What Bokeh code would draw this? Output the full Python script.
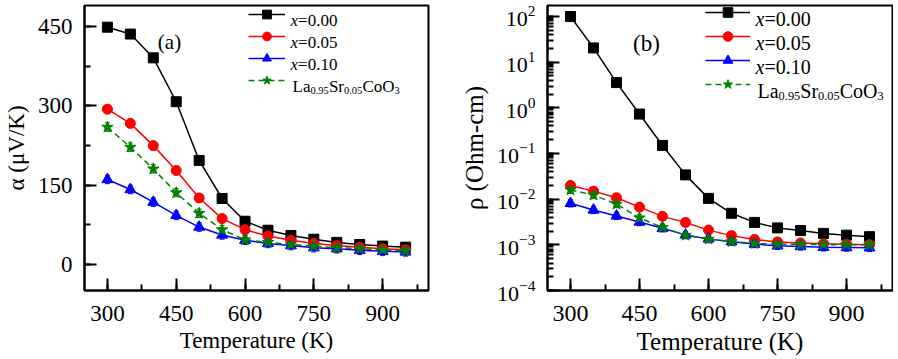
from bokeh.plotting import figure
from bokeh.layouts import row
from bokeh.models import (Range1d, Legend, LegendItem, Label, SingleIntervalTicker, LogTicker,
                          Whisker, TeeHead, ColumnDataSource)
from bokeh.embed import file_html
from bokeh.resources import INLINE

# ---------------- data ----------------
temperature = [300, 350, 400, 450, 500, 550, 600, 650, 700, 750, 800, 850, 900, 950]

alpha_x000 = [449, 436, 391, 308, 197, 125, 82, 65, 55, 48, 42, 38, 35, 33]
alpha_x005 = [294, 267, 225, 178, 126, 87, 66, 54, 46, 40, 36, 33, 30, 28]
alpha_x010 = [161, 142, 118, 93, 71, 56, 46, 40, 36, 32, 30, 27, 25, 24]
alpha_lsco = [260, 222, 181, 136, 97, 66, 47, 42, 38, 35, 32, 30, 28, 26]

rho_x000 = [100, 20.5, 3.57, 0.73, 0.15, 0.034, 0.0104, 0.0049, 0.0031, 0.00235,
            0.00206, 0.00178, 0.00163, 0.00151]
rho_x005 = [0.020, 0.0150, 0.0107, 0.0067, 0.0042, 0.0031, 0.0021, 0.00159, 0.00131,
            0.00116, 0.0011, 0.00105, 0.00103, 0.00100]
rho_x010 = [0.0081, 0.0058, 0.0043, 0.00316, 0.0023, 0.00165, 0.00135, 0.00117, 0.00104,
            0.00095, 0.00092, 0.00088, 0.00087, 0.00086]
rho_lsco = [0.0160, 0.0123, 0.0078, 0.0039, 0.0024, 0.00162, 0.00133, 0.00118, 0.00107,
            0.00104, 0.00102, 0.00101, 0.00100, 0.00100]

# error bar sizes (small)
alpha_err = 8          # µV/K
rho_err_factor = 1.2   # multiplicative

series_labels = ["0.00", "0.05", "0.10"]
lsco_label = [("La", "n"), ("0.95", "sub"), ("Sr", "n"), ("0.05", "sub"), ("CoO", "n"), ("3", "sub")]

colors = ["#000000", "#ff0000", "#0000ff", "#008000"]
markers = ["square", "circle", "triangle", "star"]
marker_sizes = [10, 10, 11, 12]

FONT = "'Liberation Serif', serif"

W = {'x': 0.444, '=': 0.564, '0': 0.5, '1': 0.5, '5': 0.5, '9': 0.5, '3': 0.5, '.': 0.25,
     'L': 0.611, 'a': 0.444, 'S': 0.556, 'r': 0.333, 'C': 0.667, 'o': 0.5, 'O': 0.722}

FH = 285  # frame height


def add_rich(p, x, y, parts, size):
    cx = x
    for text, kind in parts:
        fs = size * 0.62 if kind == "sub" else size
        yy = y - size * 0.25 if kind == "sub" else y
        p.add_layout(Label(x=cx, y=yy, x_units="screen", y_units="screen", text=text,
                           text_font=FONT, text_font_size=f"{fs:.1f}px",
                           text_font_style="italic" if kind == "i" else "normal",
                           text_baseline="alphabetic", text_align="left",
                           text_color="#000000"))
        cx += sum(W.get(c, 0.5) for c in text) * fs


def style(p, tick_font, label_font):
    p.outline_line_color = "black"
    p.outline_line_width = 2
    p.grid.visible = False
    p.background_fill_color = "white"
    p.border_fill_color = "white"
    for ax in (p.xaxis[0], p.yaxis[0]):
        ax.axis_line_width = 2
        ax.axis_line_color = "black"
        ax.major_tick_in = 12
        ax.major_tick_out = 0
        ax.minor_tick_in = 6
        ax.minor_tick_out = 0
        ax.major_tick_line_width = 2
        ax.minor_tick_line_width = 2
        ax.major_label_text_font = FONT
        ax.major_label_text_color = "black"
        ax.axis_label_text_font = FONT
        ax.axis_label_text_font_size = label_font
        ax.axis_label_text_font_style = "normal"
        ax.axis_label_text_color = "black"
    p.xaxis[0].major_label_text_font_size = tick_font[0]
    p.yaxis[0].major_label_text_font_size = tick_font[1]
    p.xaxis[0].major_label_standoff = 15
    p.xaxis[0].axis_label_standoff = 4
    p.yaxis[0].major_label_standoff = 12
    p.yaxis[0].axis_label_standoff = 6


def make_panel(ys, log, frame_w, border_l, border_r, y_range, x_range, ylabel,
               tag, tag_x, tag_y, tag_font, leg_x, gh, top_gap, leg_font, glyph_w,
               tick_font, label_font):
    kw = dict(y_axis_type="log") if log else {}
    p = figure(frame_width=frame_w, frame_height=FH, output_backend="svg",
               toolbar_location=None, x_range=Range1d(*x_range), y_range=Range1d(*y_range),
               min_border_left=border_l, min_border_right=border_r,
               min_border_top=5, min_border_bottom=60, **kw)
    style(p, tick_font, label_font)
    p.xaxis[0].ticker = SingleIntervalTicker(interval=150, num_minor_ticks=2)
    if log:
        p.yaxis[0].ticker = LogTicker(num_minor_ticks=10)
    else:
        p.yaxis[0].ticker = SingleIntervalTicker(interval=150, num_minor_ticks=2)
    p.xaxis.axis_label = "Temperature (K)"
    p.yaxis.axis_label = ylabel

    items = []
    for i, yv in enumerate(ys):
        if log:
            lo = [v / rho_err_factor for v in yv]
            hi = [v * rho_err_factor for v in yv]
        else:
            lo = [v - alpha_err for v in yv]
            hi = [v + alpha_err for v in yv]
        src = ColumnDataSource(dict(x=temperature, y=yv, lo=lo, hi=hi))
        p.add_layout(Whisker(source=src, base="x", upper="hi", lower="lo", dimension="height",
                             line_color=colors[i], line_width=1,
                             upper_head=TeeHead(size=5, line_color=colors[i], line_width=1),
                             lower_head=TeeHead(size=5, line_color=colors[i], line_width=1)))
        dash = "6 4" if i == 3 else "solid"
        ln = p.line("x", "y", source=src, line_color=colors[i], line_width=1.5, line_dash=dash)
        sc = p.scatter("x", "y", source=src, marker=markers[i], size=marker_sizes[i],
                       fill_color=colors[i], line_color=colors[i])
        items.append(LegendItem(label=" ", renderers=[ln, sc]))

    leg_h = 4 * gh
    legend = Legend(items=items, location=(leg_x, FH - top_gap - leg_h),
                    glyph_width=glyph_w, glyph_height=gh, label_height=gh, spacing=0,
                    padding=0, margin=0, border_line_alpha=0, background_fill_alpha=0,
                    label_text_font_size="1px", label_width=0, label_standoff=0)
    p.add_layout(legend, "center")

    text_x = leg_x + glyph_w + 5
    for i in range(4):
        yc = FH - top_gap - gh / 2 - i * gh
        base = yc - 0.33 * leg_font
        if i < 3:
            add_rich(p, text_x, base, [("x", "i"), ("=" + series_labels[i], "n")], leg_font)
        else:
            add_rich(p, text_x + 2, base, lsco_label, leg_font)

    p.add_layout(Label(x=tag_x, y=FH - tag_y, x_units="screen", y_units="screen", text=tag,
                       text_font=FONT, text_font_size=tag_font, text_color="black",
                       text_align="center", text_baseline="alphabetic"))
    return p


p1 = make_panel([alpha_x000, alpha_x005, alpha_x010, alpha_lsco], False, 344, 83, 19,
                (-49, 490), (250, 1000), "α (μV/K)", "(a)", 85, 36, "21px",
                164, 22, -2, 17, 37, ("23px", "23px"), "23px")
p2 = make_panel([rho_x000, rho_x005, rho_x010, rho_lsco], True, 345, 100, 1,
                (1e-4, 174), (250, 1000), "ρ (Ohm-cm)", "(b)", 99, 38, "23px",
                158, 24, -5, 20, 45, ("24px", "22px"), "25px")

layout = row(p1, p2)
open("out.html", "w").write(file_html(layout, INLINE))
